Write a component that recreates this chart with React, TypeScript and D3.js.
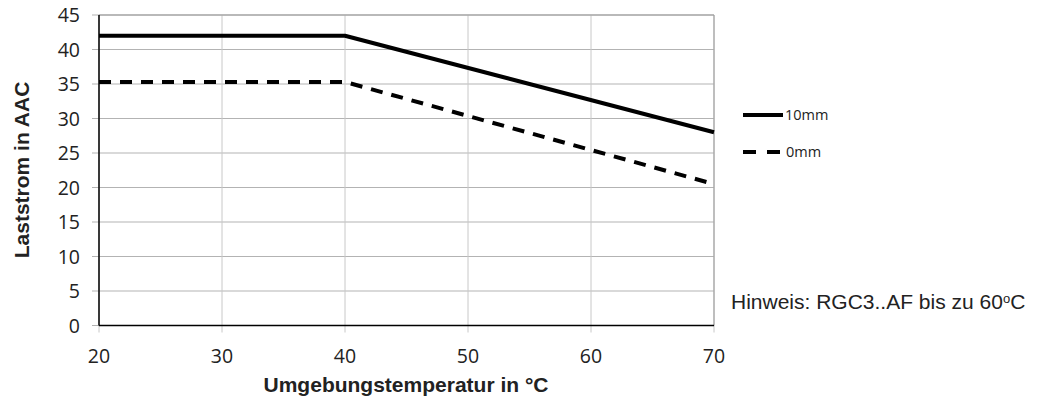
import React from "react";
import * as d3 from "d3";

const xTicks = [20, 30, 40, 50, 60, 70];
const yTicks = [0, 5, 10, 15, 20, 25, 30, 35, 40, 45];
const series10mmX = [20, 40, 70];
const series10mmY = [42, 42, 28];
const series0mmX = [20, 40, 70];
const series0mmY = [35.3, 35.3, 20.5];
const legendLabels = ["10mm", "0mm"];
const xTitle = "Umgebungstemperatur in °C";
const yTitle = "Laststrom in AAC";

export default function App() {
  const W = 1042, H = 400;
  const x = d3.scaleLinear().domain([20, 70]).range([99, 714]);
  const y = d3.scaleLinear().domain([0, 45]).range([325.5, 15]);
  const line = d3.line<[number, number]>().x(d => x(d[0])).y(d => y(d[1]));
  const s10 = series10mmX.map((v, i) => [v, series10mmY[i]] as [number, number]);
  const s0 = series0mmX.map((v, i) => [v, series0mmY[i]] as [number, number]);
  const tickFont = "Open Sans, Noto Sans, sans-serif";
  const boldFont = "Liberation Sans, Arial, sans-serif";
  return (
    <svg width={W} height={H} style={{ position: "absolute", left: 0, top: 0, background: "#fff" }}>
      <rect width={W} height={H} fill="#fff" />
      {/* grid */}
      {yTicks.map(t => (
        <line key={"gy" + t} x1={x(20) - 7} x2={x(70)} y1={y(t)} y2={y(t)} stroke="#b3b3b3" strokeWidth={1} />
      ))}
      {xTicks.map(t => (
        <line key={"gx" + t} x1={x(t)} x2={x(t)} y1={y(45)} y2={y(0) + 7} stroke="#c8c8c8" strokeWidth={1} />
      ))}
      <line x1={x(70)} x2={x(70)} y1={y(45)} y2={y(0)} stroke="#999" strokeWidth={1} />
      <line x1={x(20)} x2={x(70)} y1={y(45)} y2={y(45)} stroke="#999" strokeWidth={1} />
      {/* axes */}
      <line x1={x(20)} x2={x(20)} y1={y(45)} y2={y(0)} stroke="#000" strokeWidth={1.5} />
      <line x1={x(20)} x2={x(70)} y1={y(0)} y2={y(0)} stroke="#000" strokeWidth={1.5} />
      {/* tick labels */}
      {yTicks.map(t => (
        <text key={"ly" + t} x={80} y={y(t)} dy="0.36em" textAnchor="end" fontFamily={tickFont} fontSize={19.5} fill="#222">{t}</text>
      ))}
      {xTicks.map(t => (
        <text key={"lx" + t} x={x(t)} y={363} textAnchor="middle" fontFamily={tickFont} fontSize={19.5} fill="#222">{t}</text>
      ))}
      {/* series */}
      <path d={line(s10) || ""} fill="none" stroke="#000" strokeWidth={4} strokeLinejoin="round" />
      <path d={line(s0) || ""} fill="none" stroke="#000" strokeWidth={4} strokeDasharray="12,9" />
      {/* legend */}
      <line x1={743} x2={783} y1={115} y2={115} stroke="#000" strokeWidth={4} />
      <text x={785} y={115} dy="0.36em" fontFamily={tickFont} fontSize={14.5} fill="#222">{legendLabels[0]}</text>
      <line x1={743} x2={783} y1={152} y2={152} stroke="#000" strokeWidth={4} strokeDasharray="13,11" />
      <text x={786} y={152} dy="0.36em" fontFamily={tickFont} fontSize={14.5} fill="#222">{legendLabels[1]}</text>
      {/* note */}
      <text x={731} y={302} dy="0.35em" fontFamily={boldFont} fontSize={21} fill="#222">
        Hinweis: RGC3..AF bis zu 60<tspan fontSize={13} dy="-6">o</tspan><tspan dy="6">C</tspan>
      </text>
      {/* titles */}
      <text x={406} y={392} textAnchor="middle" fontFamily={boldFont} fontWeight="bold" fontSize={21} fill="#222">{xTitle}</text>
      <text transform={`translate(29,170) rotate(-90)`} textAnchor="middle" fontFamily={boldFont} fontWeight="bold" fontSize={21} fill="#222">{yTitle}</text>
    </svg>
  );
}
